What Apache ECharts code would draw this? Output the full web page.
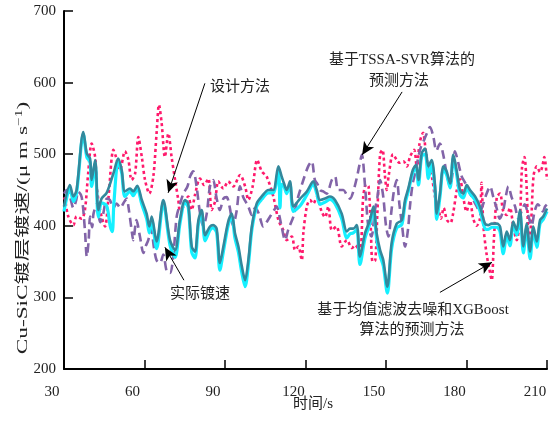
<!DOCTYPE html>
<html>
<head>
<meta charset="utf-8">
<script src="https://cdn.jsdelivr.net/npm/echarts@6/dist/echarts.min.js"></script>
<style>
  html, body { margin: 0; padding: 0; background: #fff; }
  #chart { width: 557px; height: 421px; }
</style>
</head>
<body>
<div id="chart"></div>
<script>
// Time axis ticks and plating-rate axis ticks
const xTicks = [30, 60, 90, 120, 150, 180, 210];
const yTicks = [200, 300, 400, 500, 600, 700];

// Proposed method (design method)
const designT = [30, 32.2, 33.5, 34.7, 37.2, 38.5, 39.7, 40.3, 41.6, 42.8, 44, 45.9, 48.4, 50.2, 51.5, 52.7, 54.6, 55.8, 57.3, 59, 60.8, 61.8, 62.7, 64.5, 67, 69.5, 71.4, 73.2, 75.1, 76.3, 77.6, 78.8, 80.1, 81.3, 82.6, 84.4, 85.6, 86.9, 88.1, 89.4, 91.2, 92.5, 93.7, 95, 96.2, 97.5, 98.7, 100, 101.8, 103.7, 106.2, 108, 109.9, 111.1, 112, 113, 114.2, 115.5, 118, 120.5, 122.9, 124.2, 125.4, 127.3, 129.1, 131, 133.5, 135.4, 136.6, 137.8, 139.1, 140.3, 142.2, 144, 145.3, 146.5, 147.8, 149, 150.5, 152.1, 154, 155.9, 157.1, 158.3, 160, 161.2, 162.1, 163.3, 164.6, 165.8, 167, 168.3, 168.9, 170.1, 171.4, 172.6, 173.9, 175.1, 176.4, 177.6, 178.8, 180.1, 181.3, 183.2, 185, 186.9, 188.1, 189.4, 191.3, 192.5, 193.7, 195, 196.2, 197.4, 198.7, 199.9, 201.2, 202.4, 203.7, 204.9, 206.2, 207.4, 208.6, 210];
const designV = [427, 457, 441, 450, 531, 501, 494, 464, 492, 422, 438, 446, 473, 494, 478, 448, 452, 448, 456, 436, 417, 399, 413, 378, 436, 380, 366, 408, 436, 431, 371, 364, 408, 422, 387, 399, 401, 396, 348, 371, 406, 417, 390, 371, 345, 324, 352, 399, 431, 441, 450, 450, 483, 469, 459, 450, 462, 427, 438, 448, 462, 450, 436, 438, 441, 436, 417, 392, 396, 396, 401, 357, 390, 408, 427, 390, 366, 352, 315, 376, 403, 408, 436, 452, 478, 485, 464, 501, 508, 483, 492, 455, 417, 445, 483, 476, 459, 499, 476, 450, 445, 457, 450, 441, 427, 403, 401, 403, 403, 399, 371, 392, 380, 406, 394, 422, 371, 403, 364, 399, 378, 408, 413, 424];

// Measured plating rate
const actualT = [30, 32.2, 33.5, 34.7, 37.2, 38.5, 39.7, 40.3, 41.6, 42.8, 44, 45.9, 47.2, 48, 48.6, 50.2, 51.5, 52.7, 54.6, 55.8, 57.3, 59, 60.8, 61.8, 62.7, 64.5, 67, 69.5, 71.4, 73.2, 75.1, 76.3, 77.6, 78.8, 80.1, 81.3, 82.6, 84.4, 85.6, 86.9, 88.1, 89.4, 91.2, 92.5, 93.7, 95, 96.2, 97.5, 98.7, 100, 101.8, 103.7, 106.2, 108, 109.9, 110.5, 111.1, 112, 113, 114.2, 115.5, 118, 120.5, 122.9, 124.2, 125.4, 127.3, 129.1, 131, 133.5, 135.4, 136.6, 137.8, 139.1, 140.3, 142.2, 144, 145.3, 146.5, 147.8, 149, 150.5, 152.1, 154, 155.9, 157.1, 158.3, 160, 161.2, 162.1, 163.3, 164.6, 165.8, 167, 168.3, 168.9, 170.1, 171.4, 172.6, 173.9, 175.1, 176.4, 177.6, 178.8, 180.1, 181.3, 183.2, 185, 186.9, 188.1, 189.4, 191.3, 192.5, 193.7, 195, 196.2, 197.4, 198.7, 199.9, 201.2, 202.4, 203.7, 204.9, 206.2, 207.4, 208.6, 210];
const actualV = [420, 453, 434, 446, 528, 496, 489, 455, 487, 412, 432, 428, 400, 392, 432, 490, 474, 441, 448, 442, 452, 430, 410, 390, 407, 368, 432, 373, 356, 403, 432, 426, 363, 355, 403, 418, 379, 394, 397, 390, 338, 364, 401, 413, 383, 363, 336, 315, 345, 394, 427, 437, 446, 446, 478, 425, 458, 455, 445, 458, 420, 428, 443, 458, 445, 430, 433, 437, 431, 410, 383, 389, 390, 395, 346, 383, 403, 423, 382, 358, 344, 306, 368, 397, 402, 431, 448, 474, 481, 457, 497, 500, 466, 486, 448, 409, 440, 479, 471, 453, 495, 470, 443, 439, 452, 445, 436, 421, 396, 395, 398, 398, 392, 361, 386, 372, 401, 387, 418, 362, 398, 354, 393, 370, 403, 409, 420];

// TSSA-SVR prediction
const svrT = [30, 30.4, 31.6, 33.5, 34.7, 36.6, 37.8, 39, 40.3, 41.6, 42.2, 43.2, 44, 45.3, 46.5, 48.4, 49.4, 50.9, 52.7, 54, 55.2, 56.5, 57.7, 59, 60.2, 61.8, 63.3, 64.5, 65.4, 66.4, 67.6, 68.9, 70.1, 71.4, 72.6, 73.2, 74.5, 76.3, 77.6, 78.8, 80.7, 82.2, 83.8, 85, 86.3, 87.5, 89.4, 91.2, 93.1, 95.6, 97.5, 98.7, 100.3, 102, 103.7, 105.5, 108, 109.9, 111.7, 113, 114.9, 116.1, 117.3, 118.6, 119.2, 120.5, 121.7, 122.9, 124.2, 126, 127.3, 128.5, 129.8, 131.6, 133.5, 135.4, 137.3, 138.5, 140.3, 141.5, 142.6, 143.5, 144.3, 145, 146, 146.8, 147.8, 148.7, 149.6, 150.3, 151, 152.6, 154, 155, 156.5, 157.8, 159, 160.5, 161.5, 162.5, 163.8, 164.8, 165.8, 167, 168.3, 169.5, 170.5, 171.5, 172.7, 174, 175, 176.4, 177.6, 178.8, 180, 181.3, 182.5, 183.8, 185, 185.6, 186.3, 187.5, 188.5, 189.4, 190.2, 191.3, 192.5, 193.7, 195, 196.2, 197.4, 198.7, 199.9, 200.7, 201.6, 202.5, 203.2, 204, 205, 206.2, 207.4, 208.2, 209, 210];
const svrV = [440, 436, 413, 401, 413, 410, 422, 473, 515, 496, 455, 427, 413, 399, 436, 506, 496, 478, 504, 492, 464, 473, 524, 496, 464, 445, 469, 529, 569, 543, 496, 529, 496, 464, 436, 422, 427, 441, 422, 443, 466, 457, 466, 422, 434, 462, 452, 462, 455, 471, 455, 436, 455, 492, 476, 469, 441, 408, 394, 380, 385, 366, 371, 352, 390, 427, 436, 431, 440, 420, 412, 427, 394, 399, 371, 380, 369, 373, 364, 440, 458, 455, 400, 350, 352, 420, 500, 506, 470, 450, 470, 500, 492, 488, 490, 483, 497, 506, 480, 515, 530, 505, 480, 470, 440, 425, 410, 425, 408, 404, 417, 450, 465, 440, 420, 435, 410, 400, 410, 460, 400, 360, 340, 324, 380, 440, 445, 420, 415, 425, 400, 380, 410, 482, 496, 446, 380, 400, 470, 483, 475, 482, 496, 464];

// Mean-filter denoising + XGBoost prediction
const xgbT = [30, 31, 32.2, 33.5, 34.5, 35.3, 36.6, 37.8, 38.5, 39.2, 39.7, 40.5, 41, 42.2, 43.5, 44.5, 46, 47.1, 48.4, 49.6, 51, 52.2, 53.4, 54, 55.2, 55.8, 57, 58.3, 59.6, 60.5, 61.4, 62.5, 63.5, 64.5, 65.8, 67, 68.3, 69.5, 70.7, 72, 73.2, 74.5, 76, 77, 78.2, 79.4, 80.6, 81.9, 83.2, 84.4, 85.6, 86.8, 88.1, 89.4, 90.6, 91.8, 93, 94.3, 95.6, 96.8, 98.7, 100, 101.2, 102.5, 104.3, 105.5, 106.8, 108, 109.3, 110.2, 111.1, 112.4, 113.6, 115.5, 117.3, 119.2, 121, 122.3, 123.5, 124.5, 125.4, 126.6, 127.9, 129.8, 131, 132.2, 134.1, 135.4, 136.6, 137.8, 139, 140, 141, 142.2, 143.4, 144.6, 145.8, 146.8, 147.8, 149, 150, 150.9, 152, 153, 154, 155, 156, 157.1, 158.2, 159, 160, 161, 162, 163, 164.2, 165.2, 166.4, 167.6, 168.8, 170.1, 171.3, 172.5, 173.9, 175, 175.7, 176.8, 178.2, 179.5, 180.7, 182, 183.8, 185, 186.2, 187.5, 188.8, 190, 191.2, 192.4, 193.6, 194.6, 195.6, 196.8, 198.1, 199.3, 200.5, 201.7, 203, 204.2, 205.4, 206.5, 207.4, 208.5, 209.3, 210];
const xgbV = [445, 450, 441, 425, 435, 448, 440, 394, 357, 380, 413, 398, 417, 430, 405, 415, 438, 436, 425, 431, 425, 432, 438, 427, 394, 380, 408, 385, 362, 372, 380, 395, 370, 352, 348, 360, 336, 334, 357, 413, 430, 445, 455, 469, 476, 455, 420, 399, 417, 455, 464, 440, 422, 438, 440, 425, 400, 420, 455, 440, 427, 415, 425, 418, 399, 405, 413, 420, 427, 415, 399, 380, 395, 413, 441, 464, 483, 490, 464, 458, 450, 448, 445, 464, 469, 450, 450, 443, 438, 448, 465, 483, 499, 455, 399, 385, 420, 440, 464, 440, 400, 385, 420, 450, 464, 430, 400, 371, 395, 430, 460, 475, 495, 510, 520, 529, 538, 525, 505, 515, 500, 475, 455, 480, 504, 490, 469, 460, 450, 440, 427, 420, 430, 445, 455, 440, 425, 410, 420, 440, 455, 440, 427, 410, 420, 430, 415, 400, 420, 430, 427, 420, 427, 430];

// Callout arrows: [startX, startY, endX, endY] in data units
const arrowDesign = [82.5, 599, 68.8, 446];
const arrowActual = [74.7, 324, 67.6, 370];
const arrowSvr = [156.0, 587, 141.1, 499];
const arrowXgb = [170.1, 307, 189.5, 349];

const zip = (t, v) => t.map((x, i) => [x, v[i]]);

const SERIF = "'Liberation Serif', 'Noto Sans CJK SC', serif";

const chart = echarts.init(document.getElementById('chart'), null, { renderer: 'canvas' });

const arrowLine = a => [{ coord: [a[0], a[1]] }, { coord: [a[2], a[3]] }];

const note = (x, y, text) => ({
  type: 'text', x, y,
  style: { text, font: '15px ' + SERIF, fill: '#222', align: 'center', verticalAlign: 'middle' }
});

chart.setOption({
  animation: false,
  backgroundColor: '#ffffff',
  grid: { left: 64, right: 10, top: 11, bottom: 52, containLabel: false },
  xAxis: {
    type: 'value',
    min: xTicks[0],
    max: xTicks[xTicks.length - 1],
    interval: 30,
    axisLine: { lineStyle: { color: '#000', width: 2 } },
    axisTick: { inside: true, length: 9, lineStyle: { color: '#000', width: 1.5 } },
    splitLine: { show: false },
    axisLabel: {
      color: '#222', fontFamily: SERIF, fontSize: 15, margin: 16,
      padding: [0, 24, 0, 0]
    }
  },
  yAxis: {
    type: 'value',
    min: yTicks[0],
    max: yTicks[yTicks.length - 1],
    interval: 100,
    axisLine: { show: true, lineStyle: { color: '#000', width: 2 } },
    axisTick: { show: true, inside: true, length: 9, lineStyle: { color: '#000', width: 1.5 } },
    splitLine: { show: false },
    axisLabel: { color: '#222', fontFamily: SERIF, fontSize: 15, margin: 8 }
  },
  series: [
    {
      name: '基于TSSA-SVR算法的预测方法',
      type: 'line', data: zip(svrT, svrV), showSymbol: false, smooth: 0.3,
      lineStyle: { color: '#ff1a6c', width: 2.6, type: [3, 3] }
    },
    {
      name: '基于均值滤波去噪和XGBoost算法的预测方法',
      type: 'line', data: zip(xgbT, xgbV), showSymbol: false, smooth: 0.3,
      lineStyle: { color: '#8264a8', width: 2.6, type: [9, 5] }
    },
    {
      name: '实际镀速',
      type: 'line', data: zip(actualT, actualV), showSymbol: false, smooth: 0.3,
      lineStyle: { color: '#14f0ff', width: 3.2 }
    },
    {
      name: '设计方法',
      type: 'line', data: zip(designT, designV), showSymbol: false, smooth: 0.3,
      lineStyle: { color: '#33889c', width: 2.6 },
      markLine: {
        silent: true, animation: false,
        symbol: ['none', 'arrow'], symbolSize: [9, 13],
        label: { show: false },
        lineStyle: { color: '#000', width: 1, type: 'solid' },
        emphasis: { disabled: true },
        data: [arrowLine(arrowDesign), arrowLine(arrowActual), arrowLine(arrowSvr), arrowLine(arrowXgb)]
      }
    }
  ],
  graphic: [
    {
      type: 'text', x: 23, y: 228, rotation: Math.PI / 2, scaleX: 1.55,
      style: {
        text: '{n|Cu-SiC镀层镀速/(μ m s}{s|−1}{n|)}',
        align: 'center', verticalAlign: 'middle',
        rich: {
          n: { fontFamily: SERIF, fontSize: 15, fill: '#222' },
          s: { fontFamily: SERIF, fontSize: 10, fill: '#222', padding: [0, 0, 8, 0] }
        }
      }
    },
    note(313, 404, '时间/s'),
    note(240, 87, '设计方法'),
    note(402, 60, '基于TSSA-SVR算法的'),
    note(399, 81, '预测方法'),
    note(200, 294, '实际镀速'),
    note(413, 310, '基于均值滤波去噪和XGBoost'),
    note(412, 330, '算法的预测方法')
  ]
});
</script>
</body>
</html>
